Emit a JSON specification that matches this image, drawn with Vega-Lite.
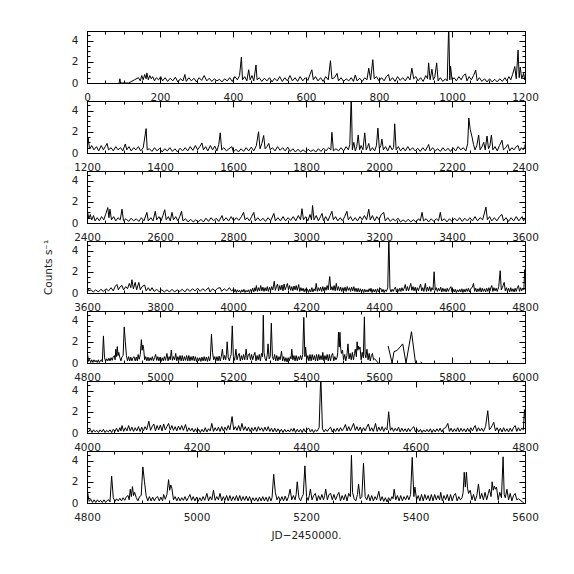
{
"$schema": "https://vega.github.io/schema/vega-lite/v6.json",
"padding": {"left": 42, "top": 24, "right": 5, "bottom": 5},
"background": "white",
"config": {
  "view": {"stroke": "black", "strokeWidth": 1},
  "axis": {"grid": false, "domainColor": "black", "tickColor": "black", "labelFont": "DejaVu Sans", "labelFontSize": 10.5, "labelColor": "#222", "titleFont": "DejaVu Sans", "titleFontSize": 10.5, "titleFontWeight": "normal", "titleColor": "#222", "labelFlush": false, "labelOverlap": false, "labelBound": false, "tickWidth": 1, "domainWidth": 1, "labelPadding": 15, "format": "d", "title": null},
  "axisTop": {"labels": false},
  "axisRight": {"labels": false}
},
"data": {"values": [
{"x":88,"y":0},{"x":90,"y":0.4},{"x":92,"y":0},{"x":114,"y":0},{"x":130,"y":0.3},{"x":141,"y":0.5},{"x":146,"y":0.2},{"x":150,"y":0.7},{"x":154,"y":0.3},{"x":158,"y":0.8},{"x":162,"y":0.4},{"x":164,"y":0.95},{"x":168,"y":0.3},{"x":172,"y":0.7},{"x":176,"y":0.4},{"x":180,"y":0.6},{"x":185,"y":0.2},{"x":190,"y":0.5},{"x":196,"y":0.3},{"x":202,"y":0.6},{"x":207,"y":0.2},{"x":214,"y":0.5},{"x":221,"y":0.15},{"x":228,"y":0.45},{"x":235,"y":0.2},{"x":242,"y":0.55},{"x":249,"y":0.1},{"x":256,"y":0.4},{"x":263,"y":0.2},{"x":268,"y":0.8},{"x":272,"y":0.15},{"x":279,"y":0.5},{"x":286,"y":0.2},{"x":293,"y":0.45},{"x":300,"y":0.1},{"x":307,"y":0.5},{"x":314,"y":0.25},{"x":321,"y":0.7},{"x":328,"y":0.2},{"x":335,"y":0.45},{"x":342,"y":0.15},{"x":349,"y":0.4},{"x":356,"y":0.2},{"x":363,"y":0.35},{"x":370,"y":0.1},{"x":377,"y":0.4},{"x":384,"y":0.2},{"x":391,"y":0.5},{"x":398,"y":0.15},{"x":405,"y":0.6},{"x":412,"y":0.3},{"x":418,"y":0.7},{"x":423,"y":2.45},{"x":426,"y":0.3},{"x":432,"y":0.6},{"x":438,"y":0.2},{"x":443,"y":1.25},{"x":447,"y":0.3},{"x":452,"y":0.7},{"x":457,"y":0.2},{"x":463,"y":1.7},{"x":466,"y":0.3},{"x":472,"y":0.5},{"x":479,"y":0.15},{"x":486,"y":0.45},{"x":493,"y":0.2},{"x":500,"y":0.5},{"x":507,"y":0.1},{"x":514,"y":0.45},{"x":521,"y":0.2},{"x":528,"y":0.6},{"x":535,"y":0.15},{"x":542,"y":0.5},{"x":549,"y":0.2},{"x":556,"y":0.7},{"x":563,"y":0.2},{"x":570,"y":0.5},{"x":577,"y":0.15},{"x":584,"y":0.6},{"x":591,"y":0.2},{"x":598,"y":0.5},{"x":605,"y":0.25},{"x":611,"y":0.8},{"x":616,"y":1.25},{"x":620,"y":0.3},{"x":626,"y":0.6},{"x":633,"y":0.2},{"x":640,"y":0.5},{"x":647,"y":0.15},{"x":654,"y":0.6},{"x":661,"y":0.3},{"x":667,"y":2.1},{"x":671,"y":0.4},{"x":678,"y":0.5},{"x":685,"y":0.9},{"x":689,"y":0.2},{"x":696,"y":0.5},{"x":703,"y":0.15},{"x":710,"y":0.4},{"x":717,"y":0.2},{"x":724,"y":0.5},{"x":730,"y":0.15},{"x":735,"y":0.75},{"x":740,"y":0.2},{"x":747,"y":0.45},{"x":754,"y":0.15},{"x":761,"y":0.5},{"x":767,"y":0.3},{"x":772,"y":1.4},{"x":777,"y":0.3},{"x":783,"y":2.2},{"x":787,"y":0.4},{"x":793,"y":0.6},{"x":800,"y":0.2},{"x":807,"y":0.5},{"x":814,"y":0.2},{"x":820,"y":0.6},{"x":826,"y":0.8},{"x":830,"y":0.2},{"x":837,"y":0.5},{"x":844,"y":0.15},{"x":851,"y":0.6},{"x":858,"y":0.25},{"x":865,"y":0.5},{"x":872,"y":0.2},{"x":879,"y":0.6},{"x":885,"y":0.3},{"x":890,"y":1.4},{"x":895,"y":0.4},{"x":901,"y":0.6},{"x":907,"y":0.2},{"x":914,"y":0.5},{"x":921,"y":0.15},{"x":928,"y":0.7},{"x":933,"y":0.4},{"x":936,"y":1.9},{"x":940,"y":0.3},{"x":945,"y":1.3},{"x":949,"y":0.3},{"x":953,"y":0.6},{"x":958,"y":1.9},{"x":962,"y":0.2},{"x":968,"y":0.5},{"x":975,"y":0.15},{"x":982,"y":0.4},{"x":987,"y":0.2},{"x":991,"y":5.5},{"x":994,"y":0.3},{"x":996,"y":1.6},{"x":1000,"y":0.3},{"x":1006,"y":0.5},{"x":1012,"y":0.2},{"x":1019,"y":0.6},{"x":1025,"y":0.3},{"x":1031,"y":0.7},{"x":1037,"y":0.85},{"x":1041,"y":0.2},{"x":1047,"y":0.6},{"x":1053,"y":0.3},{"x":1059,"y":0.7},{"x":1065,"y":1.2},{"x":1069,"y":0.2},{"x":1075,"y":0.5},{"x":1082,"y":0.15},{"x":1089,"y":0.4},{"x":1096,"y":0.1},{"x":1103,"y":0.4},{"x":1110,"y":0.1},{"x":1117,"y":0.35},{"x":1124,"y":0.1},{"x":1131,"y":0.4},{"x":1138,"y":0.15},{"x":1145,"y":0.5},{"x":1150,"y":0.2},{"x":1156,"y":0.6},{"x":1161,"y":0.3},{"x":1166,"y":0.8},{"x":1172,"y":1.55},{"x":1176,"y":0.4},{"x":1181,"y":3.1},{"x":1184,"y":0.5},{"x":1187,"y":1.5},{"x":1191,"y":0.4},{"x":1196,"y":0.9},{"x":1199,"y":0.3},
{"x":1203,"y":1.45},{"x":1207,"y":0.4},{"x":1213,"y":0.7},{"x":1219,"y":0.3},{"x":1226,"y":0.6},{"x":1232,"y":0.2},{"x":1239,"y":0.7},{"x":1245,"y":0.3},{"x":1250,"y":0.6},{"x":1255,"y":0.9},{"x":1259,"y":0.3},{"x":1266,"y":0.5},{"x":1272,"y":0.2},{"x":1279,"y":0.6},{"x":1285,"y":0.3},{"x":1292,"y":0.5},{"x":1298,"y":0.2},{"x":1305,"y":0.85},{"x":1309,"y":0.3},{"x":1315,"y":0.6},{"x":1321,"y":0.2},{"x":1328,"y":0.5},{"x":1334,"y":0.3},{"x":1341,"y":0.6},{"x":1347,"y":0.2},{"x":1354,"y":0.5},{"x":1362,"y":2.3},{"x":1365,"y":0.3},{"x":1371,"y":0.4},{"x":1378,"y":0.15},{"x":1385,"y":0.5},{"x":1392,"y":0.2},{"x":1399,"y":0.45},{"x":1406,"y":0.1},{"x":1413,"y":0.4},{"x":1420,"y":0.2},{"x":1427,"y":0.5},{"x":1434,"y":0.15},{"x":1441,"y":0.4},{"x":1448,"y":0.1},{"x":1455,"y":0.45},{"x":1462,"y":0.2},{"x":1469,"y":0.5},{"x":1476,"y":0.2},{"x":1483,"y":0.6},{"x":1490,"y":0.25},{"x":1497,"y":0.7},{"x":1503,"y":0.3},{"x":1509,"y":0.6},{"x":1515,"y":0.95},{"x":1519,"y":0.3},{"x":1525,"y":0.6},{"x":1531,"y":0.2},{"x":1538,"y":0.7},{"x":1544,"y":0.3},{"x":1550,"y":0.65},{"x":1556,"y":0.2},{"x":1561,"y":0.8},{"x":1565,"y":1.9},{"x":1569,"y":0.3},{"x":1575,"y":0.5},{"x":1582,"y":0.2},{"x":1589,"y":0.4},{"x":1597,"y":0.6},{"x":1601,"y":0.1},{"x":1608,"y":0.35},{"x":1615,"y":0.1},{"x":1622,"y":0.4},{"x":1629,"y":0.15},{"x":1636,"y":0.5},{"x":1643,"y":0.2},{"x":1650,"y":0.55},{"x":1657,"y":0.2},{"x":1664,"y":0.7},{"x":1670,"y":2.0},{"x":1674,"y":0.4},{"x":1679,"y":0.9},{"x":1684,"y":1.65},{"x":1688,"y":0.4},{"x":1693,"y":0.6},{"x":1698,"y":0.9},{"x":1702,"y":0.3},{"x":1708,"y":0.5},{"x":1715,"y":0.2},{"x":1722,"y":0.6},{"x":1729,"y":0.25},{"x":1736,"y":0.5},{"x":1743,"y":0.2},{"x":1750,"y":0.55},{"x":1757,"y":0.15},{"x":1764,"y":0.4},{"x":1771,"y":0.1},{"x":1778,"y":0.35},{"x":1785,"y":0.1},{"x":1792,"y":0.3},{"x":1799,"y":0.1},{"x":1806,"y":0.35},{"x":1813,"y":0.15},{"x":1820,"y":0.3},{"x":1827,"y":0.1},{"x":1834,"y":0.4},{"x":1841,"y":0.15},{"x":1848,"y":0.45},{"x":1855,"y":0.2},{"x":1862,"y":0.5},{"x":1868,"y":0.3},{"x":1871,"y":1.95},{"x":1875,"y":0.2},{"x":1882,"y":0.4},{"x":1889,"y":0.2},{"x":1896,"y":0.5},{"x":1903,"y":0.2},{"x":1910,"y":0.6},{"x":1916,"y":0.3},{"x":1920,"y":0.8},{"x":1924,"y":5.5},{"x":1927,"y":0.3},{"x":1931,"y":1.0},{"x":1935,"y":0.2},{"x":1939,"y":0.6},{"x":1943,"y":1.7},{"x":1947,"y":0.3},{"x":1951,"y":0.7},{"x":1956,"y":0.3},{"x":1961,"y":1.9},{"x":1965,"y":0.3},{"x":1969,"y":0.6},{"x":1972,"y":0.9},{"x":1976,"y":0.2},{"x":1982,"y":0.5},{"x":1988,"y":0.2},{"x":1993,"y":0.7},{"x":1997,"y":2.35},{"x":2001,"y":0.4},{"x":2005,"y":0.7},{"x":2008,"y":1.3},{"x":2012,"y":0.3},{"x":2018,"y":0.6},{"x":2024,"y":0.2},{"x":2030,"y":0.7},{"x":2036,"y":0.3},{"x":2040,"y":0.5},{"x":2043,"y":2.75},{"x":2047,"y":0.3},{"x":2053,"y":0.6},{"x":2059,"y":0.2},{"x":2066,"y":0.5},{"x":2072,"y":0.2},{"x":2079,"y":0.6},{"x":2085,"y":0.25},{"x":2092,"y":0.5},{"x":2099,"y":0.2},{"x":2106,"y":0.45},{"x":2113,"y":0.15},{"x":2120,"y":0.5},{"x":2127,"y":0.2},{"x":2133,"y":0.6},{"x":2136,"y":0.8},{"x":2140,"y":0.2},{"x":2147,"y":0.5},{"x":2154,"y":0.2},{"x":2161,"y":0.4},{"x":2168,"y":0.15},{"x":2175,"y":0.5},{"x":2182,"y":0.2},{"x":2189,"y":0.45},{"x":2196,"y":0.15},{"x":2203,"y":0.5},{"x":2210,"y":0.2},{"x":2217,"y":0.6},{"x":2224,"y":0.3},{"x":2231,"y":0.5},{"x":2238,"y":0.2},{"x":2243,"y":0.9},{"x":2246,"y":3.3},{"x":2250,"y":2.2},{"x":2255,"y":1.5},{"x":2259,"y":0.8},{"x":2263,"y":0.3},{"x":2268,"y":0.7},{"x":2273,"y":1.7},{"x":2277,"y":0.3},{"x":2282,"y":0.6},{"x":2287,"y":1.0},{"x":2291,"y":0.3},{"x":2296,"y":1.6},{"x":2300,"y":0.4},{"x":2304,"y":0.7},{"x":2308,"y":1.7},{"x":2312,"y":0.3},{"x":2318,"y":0.6},{"x":2324,"y":0.2},{"x":2330,"y":0.7},{"x":2337,"y":1.2},{"x":2341,"y":0.3},{"x":2347,"y":0.5},{"x":2353,"y":0.8},{"x":2358,"y":0.2},{"x":2364,"y":0.5},{"x":2370,"y":0.3},{"x":2376,"y":0.6},{"x":2381,"y":0.7},{"x":2385,"y":0.2},{"x":2390,"y":0.5},{"x":2395,"y":0.3},{"x":2399,"y":0.6},
{"x":2402,"y":0.95},{"x":2405,"y":0.4},{"x":2409,"y":0.8},{"x":2413,"y":0.3},{"x":2418,"y":0.7},{"x":2422,"y":0.2},{"x":2428,"y":0.5},{"x":2434,"y":0.2},{"x":2440,"y":0.6},{"x":2446,"y":0.3},{"x":2451,"y":0.8},{"x":2457,"y":1.45},{"x":2460,"y":0.5},{"x":2463,"y":1.3},{"x":2467,"y":0.3},{"x":2473,"y":0.6},{"x":2479,"y":0.2},{"x":2485,"y":0.5},{"x":2491,"y":0.3},{"x":2496,"y":1.3},{"x":2500,"y":0.2},{"x":2507,"y":0.4},{"x":2514,"y":0.15},{"x":2521,"y":0.45},{"x":2528,"y":0.2},{"x":2535,"y":0.4},{"x":2542,"y":0.15},{"x":2549,"y":0.5},{"x":2556,"y":0.2},{"x":2564,"y":1.0},{"x":2568,"y":0.2},{"x":2575,"y":0.5},{"x":2581,"y":0.2},{"x":2587,"y":1.1},{"x":2591,"y":0.3},{"x":2597,"y":0.6},{"x":2603,"y":0.2},{"x":2608,"y":0.7},{"x":2613,"y":1.25},{"x":2617,"y":0.3},{"x":2623,"y":0.6},{"x":2628,"y":0.2},{"x":2633,"y":1.0},{"x":2637,"y":0.3},{"x":2643,"y":0.6},{"x":2649,"y":0.2},{"x":2654,"y":0.6},{"x":2659,"y":1.1},{"x":2663,"y":0.2},{"x":2670,"y":0.4},{"x":2677,"y":0.1},{"x":2684,"y":0.35},{"x":2691,"y":0.1},{"x":2698,"y":0.3},{"x":2705,"y":0.1},{"x":2712,"y":0.35},{"x":2719,"y":0.1},{"x":2726,"y":0.45},{"x":2733,"y":0.15},{"x":2740,"y":0.5},{"x":2747,"y":0.2},{"x":2754,"y":0.45},{"x":2761,"y":0.15},{"x":2770,"y":0.7},{"x":2774,"y":0.2},{"x":2781,"y":0.5},{"x":2788,"y":0.2},{"x":2795,"y":0.6},{"x":2802,"y":0.2},{"x":2809,"y":0.5},{"x":2816,"y":0.25},{"x":2823,"y":0.6},{"x":2829,"y":1.0},{"x":2833,"y":0.3},{"x":2839,"y":0.5},{"x":2845,"y":0.2},{"x":2851,"y":0.6},{"x":2857,"y":1.0},{"x":2861,"y":0.2},{"x":2868,"y":0.5},{"x":2875,"y":0.2},{"x":2882,"y":0.45},{"x":2889,"y":0.15},{"x":2896,"y":0.5},{"x":2903,"y":0.2},{"x":2912,"y":0.9},{"x":2916,"y":0.2},{"x":2923,"y":0.5},{"x":2930,"y":0.2},{"x":2937,"y":0.6},{"x":2944,"y":0.2},{"x":2951,"y":0.5},{"x":2958,"y":0.25},{"x":2965,"y":0.6},{"x":2972,"y":0.2},{"x":2979,"y":0.7},{"x":2985,"y":0.3},{"x":2989,"y":1.35},{"x":2993,"y":0.3},{"x":2999,"y":0.6},{"x":3005,"y":0.2},{"x":3011,"y":0.8},{"x":3015,"y":0.3},{"x":3018,"y":1.65},{"x":3022,"y":0.3},{"x":3028,"y":0.7},{"x":3034,"y":0.2},{"x":3040,"y":0.6},{"x":3044,"y":0.9},{"x":3048,"y":0.2},{"x":3054,"y":0.6},{"x":3060,"y":0.2},{"x":3066,"y":0.7},{"x":3071,"y":1.1},{"x":3075,"y":0.3},{"x":3081,"y":0.6},{"x":3087,"y":0.2},{"x":3094,"y":0.5},{"x":3100,"y":0.2},{"x":3106,"y":0.6},{"x":3112,"y":1.1},{"x":3116,"y":0.3},{"x":3122,"y":0.6},{"x":3128,"y":0.2},{"x":3135,"y":0.5},{"x":3141,"y":0.2},{"x":3148,"y":0.6},{"x":3154,"y":0.3},{"x":3160,"y":0.7},{"x":3166,"y":0.3},{"x":3172,"y":1.3},{"x":3176,"y":0.3},{"x":3182,"y":0.7},{"x":3188,"y":0.2},{"x":3194,"y":0.6},{"x":3200,"y":0.3},{"x":3206,"y":0.8},{"x":3213,"y":1.0},{"x":3217,"y":0.2},{"x":3224,"y":0.5},{"x":3231,"y":0.15},{"x":3238,"y":0.4},{"x":3245,"y":0.2},{"x":3252,"y":0.45},{"x":3259,"y":0.1},{"x":3266,"y":0.3},{"x":3273,"y":0.1},{"x":3280,"y":0.35},{"x":3287,"y":0.1},{"x":3294,"y":0.3},{"x":3301,"y":0.1},{"x":3308,"y":0.4},{"x":3313,"y":0.2},{"x":3318,"y":1.0},{"x":3322,"y":0.2},{"x":3329,"y":0.4},{"x":3336,"y":0.1},{"x":3343,"y":0.4},{"x":3350,"y":0.15},{"x":3357,"y":0.4},{"x":3363,"y":0.2},{"x":3368,"y":1.0},{"x":3372,"y":0.2},{"x":3379,"y":0.4},{"x":3386,"y":0.1},{"x":3393,"y":0.4},{"x":3400,"y":0.15},{"x":3407,"y":0.45},{"x":3414,"y":0.2},{"x":3421,"y":0.5},{"x":3428,"y":0.15},{"x":3435,"y":0.45},{"x":3442,"y":0.2},{"x":3449,"y":0.5},{"x":3456,"y":0.2},{"x":3463,"y":0.6},{"x":3470,"y":0.2},{"x":3477,"y":0.5},{"x":3484,"y":0.3},{"x":3493,"y":1.5},{"x":3497,"y":0.3},{"x":3503,"y":0.6},{"x":3509,"y":0.2},{"x":3516,"y":0.5},{"x":3523,"y":0.2},{"x":3530,"y":0.6},{"x":3537,"y":0.8},{"x":3541,"y":0.2},{"x":3548,"y":0.5},{"x":3555,"y":0.15},{"x":3562,"y":0.5},{"x":3569,"y":0.2},{"x":3576,"y":0.6},{"x":3583,"y":0.2},{"x":3592,"y":0.6},{"x":3596,"y":0.2},
{"x":3601,"y":0.5},{"x":3605,"y":0.2},{"x":3611,"y":0.3},{"x":3617,"y":0.1},{"x":3624,"y":0.3},{"x":3631,"y":0.1},{"x":3638,"y":0.35},{"x":3645,"y":0.15},{"x":3652,"y":0.4},{"x":3659,"y":0.2},{"x":3666,"y":0.5},{"x":3672,"y":0.2},{"x":3677,"y":0.6},{"x":3682,"y":0.8},{"x":3686,"y":0.3},{"x":3691,"y":0.6},{"x":3696,"y":0.7},{"x":3700,"y":0.3},{"x":3706,"y":0.6},{"x":3711,"y":0.4},{"x":3716,"y":0.9},{"x":3720,"y":0.5},{"x":3723,"y":1.25},{"x":3727,"y":0.4},{"x":3732,"y":1.0},{"x":3736,"y":0.3},{"x":3742,"y":1.0},{"x":3746,"y":0.3},{"x":3751,"y":0.6},{"x":3758,"y":0.75},{"x":3762,"y":0.2},{"x":3768,"y":0.5},{"x":3773,"y":0.2},{"x":3778,"y":0.5},{"x":3784,"y":0.15},{"x":3791,"y":0.35},{"x":3798,"y":0.1},{"x":3805,"y":0.3},{"x":3812,"y":0.1},{"x":3819,"y":0.3},{"x":3826,"y":0.1},{"x":3833,"y":0.35},{"x":3840,"y":0.1},{"x":3847,"y":0.3},{"x":3854,"y":0.15},{"x":3861,"y":0.35},{"x":3868,"y":0.1},{"x":3875,"y":0.4},{"x":3882,"y":0.15},{"x":3889,"y":0.4},{"x":3896,"y":0.2},{"x":3903,"y":0.45},{"x":3910,"y":0.15},{"x":3917,"y":0.4},{"x":3924,"y":0.2},{"x":3933,"y":0.5},{"x":3937,"y":0.1},{"x":3944,"y":0.4},{"x":3951,"y":0.2},{"x":3958,"y":0.45},{"x":3965,"y":0.5},{"x":3969,"y":0.15},{"x":3976,"y":0.4},{"x":3983,"y":0.2},{"x":3990,"y":0.5},{"x":3996,"y":0.2},
{"x":4000,"y":0.3},{"x":4003,"y":0.1},{"x":4006,"y":0.35},{"x":4009,"y":0.05},{"x":4012,"y":0.3},{"x":4015,"y":0.1},{"x":4018,"y":0.25},{"x":4021,"y":0.05},{"x":4024,"y":0.3},{"x":4027,"y":0.1},{"x":4030,"y":0.35},{"x":4033,"y":0.05},{"x":4036,"y":0.25},{"x":4039,"y":0.1},{"x":4042,"y":0.3},{"x":4045,"y":0.05},{"x":4048,"y":0.35},{"x":4051,"y":0.15},{"x":4054,"y":0.45},{"x":4057,"y":0.1},{"x":4060,"y":0.5},{"x":4062,"y":0.2},{"x":4064,"y":0.7},{"x":4067,"y":0.15},{"x":4070,"y":0.5},{"x":4073,"y":0.2},{"x":4076,"y":0.7},{"x":4079,"y":0.2},{"x":4082,"y":0.55},{"x":4085,"y":0.15},{"x":4088,"y":0.5},{"x":4091,"y":0.2},{"x":4094,"y":0.6},{"x":4097,"y":0.15},{"x":4100,"y":0.55},{"x":4103,"y":0.2},{"x":4106,"y":0.6},{"x":4109,"y":0.3},{"x":4113,"y":1.1},{"x":4116,"y":0.25},{"x":4119,"y":0.6},{"x":4122,"y":0.85},{"x":4125,"y":0.2},{"x":4128,"y":0.7},{"x":4131,"y":0.3},{"x":4134,"y":0.75},{"x":4137,"y":0.2},{"x":4140,"y":0.85},{"x":4143,"y":0.3},{"x":4146,"y":0.6},{"x":4149,"y":0.9},{"x":4152,"y":0.3},{"x":4155,"y":0.7},{"x":4158,"y":0.25},{"x":4161,"y":0.6},{"x":4164,"y":0.2},{"x":4167,"y":0.65},{"x":4170,"y":0.3},{"x":4173,"y":0.7},{"x":4176,"y":0.25},{"x":4180,"y":0.8},{"x":4183,"y":0.15},{"x":4186,"y":0.5},{"x":4189,"y":0.2},{"x":4192,"y":0.45},{"x":4195,"y":0.1},{"x":4198,"y":0.4},{"x":4201,"y":0.1},{"x":4204,"y":0.35},{"x":4207,"y":0.05},{"x":4210,"y":0.35},{"x":4213,"y":0.1},{"x":4216,"y":0.5},{"x":4219,"y":0.1},{"x":4222,"y":0.4},{"x":4225,"y":0.2},{"x":4228,"y":0.9},{"x":4231,"y":0.15},{"x":4234,"y":0.5},{"x":4237,"y":0.2},{"x":4240,"y":0.55},{"x":4243,"y":0.15},{"x":4246,"y":0.6},{"x":4249,"y":0.2},{"x":4252,"y":0.55},{"x":4255,"y":0.25},{"x":4258,"y":0.7},{"x":4261,"y":0.3},{"x":4265,"y":1.55},{"x":4268,"y":0.3},{"x":4271,"y":0.6},{"x":4274,"y":0.25},{"x":4277,"y":0.7},{"x":4280,"y":0.2},{"x":4283,"y":0.9},{"x":4286,"y":0.25},{"x":4289,"y":0.6},{"x":4292,"y":0.2},{"x":4295,"y":0.55},{"x":4298,"y":0.15},{"x":4301,"y":0.5},{"x":4304,"y":0.2},{"x":4307,"y":0.55},{"x":4310,"y":0.15},{"x":4313,"y":0.6},{"x":4316,"y":0.25},{"x":4319,"y":0.5},{"x":4322,"y":0.15},{"x":4325,"y":0.55},{"x":4328,"y":0.2},{"x":4331,"y":0.6},{"x":4334,"y":0.15},{"x":4337,"y":0.45},{"x":4340,"y":0.1},{"x":4343,"y":0.45},{"x":4346,"y":0.1},{"x":4349,"y":0.4},{"x":4352,"y":0.1},{"x":4355,"y":0.35},{"x":4358,"y":0.05},{"x":4361,"y":0.35},{"x":4364,"y":0.1},{"x":4367,"y":0.3},{"x":4370,"y":0.1},{"x":4373,"y":0.4},{"x":4376,"y":0.15},{"x":4378,"y":0.45},{"x":4381,"y":0.05},{"x":4384,"y":0.35},{"x":4387,"y":0.1},{"x":4390,"y":0.35},{"x":4393,"y":0.05},{"x":4396,"y":0.4},{"x":4399,"y":0.1},{"x":4402,"y":0.35},{"x":4405,"y":0.45},{"x":4408,"y":0.1},{"x":4411,"y":0.35},{"x":4414,"y":0.05},{"x":4417,"y":0.3},{"x":4420,"y":0.15},{"x":4424,"y":0.5},{"x":4427,"y":5.5},{"x":4430,"y":0.4},{"x":4433,"y":0.1},{"x":4436,"y":0.35},{"x":4439,"y":0.15},{"x":4442,"y":0.4},{"x":4445,"y":0.55},{"x":4448,"y":0.1},{"x":4451,"y":0.4},{"x":4454,"y":0.15},{"x":4457,"y":0.45},{"x":4460,"y":0.15},{"x":4463,"y":0.5},{"x":4466,"y":0.2},{"x":4469,"y":0.45},{"x":4472,"y":0.8},{"x":4475,"y":0.2},{"x":4478,"y":0.6},{"x":4481,"y":0.2},{"x":4484,"y":0.55},{"x":4487,"y":0.9},{"x":4490,"y":0.25},{"x":4493,"y":0.6},{"x":4496,"y":0.2},{"x":4499,"y":0.55},{"x":4502,"y":0.15},{"x":4505,"y":0.5},{"x":4508,"y":0.2},{"x":4511,"y":0.55},{"x":4514,"y":0.85},{"x":4517,"y":0.2},{"x":4520,"y":0.5},{"x":4523,"y":0.15},{"x":4527,"y":0.9},{"x":4530,"y":0.15},{"x":4533,"y":0.55},{"x":4536,"y":0.2},{"x":4539,"y":0.6},{"x":4542,"y":0.15},{"x":4545,"y":0.5},{"x":4548,"y":0.3},{"x":4551,"y":2.0},{"x":4554,"y":0.25},{"x":4557,"y":0.5},{"x":4560,"y":0.15},{"x":4563,"y":0.45},{"x":4566,"y":0.2},{"x":4569,"y":0.55},{"x":4572,"y":0.1},{"x":4575,"y":0.45},{"x":4578,"y":0.15},{"x":4581,"y":0.4},{"x":4584,"y":0.1},{"x":4587,"y":0.45},{"x":4590,"y":0.15},{"x":4593,"y":0.4},{"x":4597,"y":0.6},{"x":4600,"y":0.1},{"x":4603,"y":0.35},{"x":4606,"y":0.1},{"x":4609,"y":0.35},{"x":4612,"y":0.05},{"x":4615,"y":0.3},{"x":4618,"y":0.1},{"x":4621,"y":0.35},{"x":4624,"y":0.1},{"x":4627,"y":0.4},{"x":4630,"y":0.05},{"x":4633,"y":0.35},{"x":4636,"y":0.1},{"x":4639,"y":0.4},{"x":4642,"y":0.15},{"x":4645,"y":0.45},{"x":4648,"y":0.1},{"x":4651,"y":0.4},{"x":4655,"y":0.5},{"x":4659,"y":0.9},{"x":4662,"y":0.15},{"x":4665,"y":0.45},{"x":4668,"y":0.1},{"x":4671,"y":0.4},{"x":4674,"y":0.15},{"x":4677,"y":0.5},{"x":4680,"y":0.1},{"x":4683,"y":0.45},{"x":4686,"y":0.15},{"x":4689,"y":0.4},{"x":4692,"y":0.1},{"x":4695,"y":0.45},{"x":4698,"y":0.15},{"x":4701,"y":0.5},{"x":4704,"y":0.2},{"x":4707,"y":0.55},{"x":4709,"y":0.7},{"x":4712,"y":0.15},{"x":4715,"y":0.5},{"x":4718,"y":0.2},{"x":4721,"y":0.45},{"x":4724,"y":0.15},{"x":4728,"y":0.6},{"x":4732,"y":2.1},{"x":4735,"y":0.3},{"x":4738,"y":0.5},{"x":4740,"y":0.7},{"x":4743,"y":1.0},{"x":4746,"y":0.2},{"x":4749,"y":0.5},{"x":4752,"y":0.15},{"x":4755,"y":0.45},{"x":4758,"y":0.1},{"x":4761,"y":0.5},{"x":4764,"y":0.15},{"x":4767,"y":0.4},{"x":4770,"y":0.1},{"x":4773,"y":0.45},{"x":4776,"y":0.15},{"x":4779,"y":0.5},{"x":4782,"y":0.7},{"x":4785,"y":0.15},{"x":4788,"y":0.5},{"x":4791,"y":0.2},{"x":4794,"y":0.45},{"x":4797,"y":0.3},{"x":4799,"y":2.2},
{"x":4801,"y":1.0},{"x":4804,"y":0.15},{"x":4807,"y":0.35},{"x":4810,"y":0.05},{"x":4813,"y":0.3},{"x":4816,"y":0.05},{"x":4819,"y":0.3},{"x":4822,"y":0.1},{"x":4825,"y":0.25},{"x":4828,"y":0.05},{"x":4831,"y":0.3},{"x":4834,"y":0.05},{"x":4837,"y":0.25},{"x":4840,"y":0.3},{"x":4842,"y":0.1},{"x":4845,"y":2.55},{"x":4848,"y":0.5},{"x":4851,"y":0.15},{"x":4854,"y":0.4},{"x":4857,"y":0.2},{"x":4860,"y":0.45},{"x":4863,"y":0.2},{"x":4866,"y":0.5},{"x":4869,"y":0.25},{"x":4872,"y":0.6},{"x":4875,"y":0.7},{"x":4877,"y":0.3},{"x":4879,"y":1.3},{"x":4881,"y":0.6},{"x":4883,"y":1.55},{"x":4885,"y":0.7},{"x":4887,"y":1.0},{"x":4890,"y":0.5},{"x":4893,"y":0.2},{"x":4896,"y":0.6},{"x":4899,"y":0.7},{"x":4902,"y":3.4},{"x":4905,"y":2.0},{"x":4908,"y":0.7},{"x":4911,"y":0.2},{"x":4914,"y":0.6},{"x":4917,"y":0.2},{"x":4920,"y":0.55},{"x":4923,"y":0.2},{"x":4926,"y":0.5},{"x":4929,"y":0.6},{"x":4932,"y":0.2},{"x":4935,"y":0.55},{"x":4938,"y":0.2},{"x":4940,"y":0.8},{"x":4943,"y":0.35},{"x":4946,"y":0.8},{"x":4949,"y":2.2},{"x":4951,"y":1.2},{"x":4953,"y":1.7},{"x":4955,"y":1.4},{"x":4958,"y":0.3},{"x":4961,"y":0.6},{"x":4964,"y":0.2},{"x":4967,"y":0.55},{"x":4970,"y":0.2},{"x":4973,"y":0.5},{"x":4976,"y":0.25},{"x":4979,"y":0.6},{"x":4982,"y":0.2},{"x":4985,"y":0.5},{"x":4988,"y":0.8},{"x":4991,"y":0.25},{"x":4994,"y":0.6},{"x":4997,"y":0.2},{"x":5000,"y":0.55},{"x":5003,"y":0.15},{"x":5006,"y":0.5},{"x":5009,"y":0.2},{"x":5012,"y":0.6},{"x":5015,"y":0.25},{"x":5019,"y":0.9},{"x":5022,"y":0.2},{"x":5025,"y":0.6},{"x":5028,"y":0.3},{"x":5031,"y":1.2},{"x":5034,"y":0.25},{"x":5037,"y":0.6},{"x":5040,"y":0.3},{"x":5043,"y":0.9},{"x":5046,"y":0.2},{"x":5049,"y":0.6},{"x":5052,"y":0.25},{"x":5055,"y":0.7},{"x":5058,"y":0.2},{"x":5061,"y":0.7},{"x":5064,"y":0.2},{"x":5067,"y":0.6},{"x":5070,"y":0.25},{"x":5073,"y":0.7},{"x":5076,"y":0.2},{"x":5079,"y":0.7},{"x":5082,"y":0.2},{"x":5085,"y":0.6},{"x":5088,"y":0.25},{"x":5091,"y":0.65},{"x":5094,"y":0.2},{"x":5097,"y":0.6},{"x":5100,"y":0.15},{"x":5103,"y":0.5},{"x":5106,"y":0.2},{"x":5109,"y":0.5},{"x":5112,"y":0.15},{"x":5115,"y":0.55},{"x":5118,"y":0.2},{"x":5121,"y":0.6},{"x":5124,"y":0.2},{"x":5127,"y":0.55},{"x":5130,"y":0.15},{"x":5133,"y":0.6},{"x":5136,"y":0.2},{"x":5138,"y":0.5},{"x":5141,"y":2.7},{"x":5144,"y":1.0},{"x":5147,"y":0.3},{"x":5150,"y":0.6},{"x":5153,"y":0.2},{"x":5156,"y":0.6},{"x":5159,"y":0.2},{"x":5162,"y":0.65},{"x":5165,"y":0.2},{"x":5168,"y":0.6},{"x":5171,"y":1.3},{"x":5174,"y":0.3},{"x":5177,"y":0.7},{"x":5180,"y":0.3},{"x":5182,"y":0.8},{"x":5184,"y":2.0},{"x":5187,"y":0.5},{"x":5190,"y":0.2},{"x":5193,"y":0.6},{"x":5195,"y":0.8},{"x":5198,"y":3.5},{"x":5201,"y":0.6},{"x":5204,"y":0.25},{"x":5206,"y":0.7},{"x":5208,"y":1.3},{"x":5211,"y":0.3},{"x":5214,"y":0.7},{"x":5217,"y":0.9},{"x":5220,"y":0.2},{"x":5223,"y":0.7},{"x":5226,"y":0.3},{"x":5229,"y":0.8},{"x":5232,"y":0.3},{"x":5234,"y":0.7},{"x":5236,"y":1.3},{"x":5239,"y":0.3},{"x":5242,"y":0.8},{"x":5245,"y":0.9},{"x":5248,"y":0.3},{"x":5251,"y":0.8},{"x":5254,"y":0.3},{"x":5257,"y":0.7},{"x":5260,"y":1.0},{"x":5263,"y":0.2},{"x":5266,"y":0.7},{"x":5269,"y":0.3},{"x":5272,"y":0.8},{"x":5275,"y":0.2},{"x":5278,"y":0.9},{"x":5281,"y":0.6},{"x":5283,"y":4.5},{"x":5285,"y":1.0},{"x":5288,"y":0.4},{"x":5291,"y":0.2},{"x":5294,"y":0.8},{"x":5296,"y":1.8},{"x":5299,"y":0.4},{"x":5302,"y":0.6},{"x":5305,"y":3.75},{"x":5308,"y":0.6},{"x":5311,"y":0.3},{"x":5314,"y":0.8},{"x":5317,"y":0.2},{"x":5320,"y":0.7},{"x":5323,"y":0.2},{"x":5326,"y":0.6},{"x":5329,"y":0.3},{"x":5333,"y":1.1},{"x":5336,"y":0.2},{"x":5339,"y":0.6},{"x":5342,"y":0.15},{"x":5345,"y":0.5},{"x":5348,"y":0.1},{"x":5351,"y":0.5},{"x":5354,"y":0.2},{"x":5357,"y":0.6},{"x":5359,"y":0.4},{"x":5361,"y":1.3},{"x":5364,"y":0.3},{"x":5367,"y":0.7},{"x":5370,"y":0.2},{"x":5373,"y":0.7},{"x":5376,"y":0.2},{"x":5379,"y":0.6},{"x":5382,"y":0.3},{"x":5385,"y":0.7},{"x":5388,"y":0.3},{"x":5391,"y":0.8},{"x":5394,"y":4.3},{"x":5397,"y":0.6},{"x":5399,"y":1.5},{"x":5402,"y":0.3},{"x":5405,"y":0.7},{"x":5408,"y":0.2},{"x":5411,"y":0.8},{"x":5414,"y":0.2},{"x":5417,"y":0.8},{"x":5420,"y":0.3},{"x":5423,"y":0.7},{"x":5426,"y":0.2},{"x":5429,"y":0.8},{"x":5432,"y":0.2},{"x":5435,"y":0.8},{"x":5438,"y":0.3},{"x":5441,"y":0.7},{"x":5444,"y":0.3},{"x":5446,"y":1.0},{"x":5449,"y":0.2},{"x":5452,"y":0.7},{"x":5455,"y":0.3},{"x":5458,"y":0.8},{"x":5461,"y":0.2},{"x":5464,"y":0.8},{"x":5467,"y":0.2},{"x":5470,"y":0.7},{"x":5473,"y":0.9},{"x":5476,"y":0.2},{"x":5479,"y":0.6},{"x":5482,"y":0.3},{"x":5485,"y":0.5},{"x":5487,"y":1.0},{"x":5489,"y":2.9},{"x":5491,"y":1.5},{"x":5493,"y":2.9},{"x":5495,"y":1.4},{"x":5497,"y":0.9},{"x":5500,"y":1.2},{"x":5503,"y":0.3},{"x":5506,"y":0.8},{"x":5509,"y":0.2},{"x":5512,"y":0.7},{"x":5515,"y":1.8},{"x":5518,"y":0.4},{"x":5521,"y":0.9},{"x":5524,"y":0.3},{"x":5527,"y":1.0},{"x":5530,"y":0.3},{"x":5533,"y":0.9},{"x":5535,"y":1.3},{"x":5538,"y":0.6},{"x":5540,"y":2.0},{"x":5542,"y":1.2},{"x":5544,"y":1.6},{"x":5546,"y":1.3},{"x":5548,"y":1.5},{"x":5551,"y":0.3},{"x":5554,"y":1.0},{"x":5557,"y":0.5},{"x":5560,"y":4.35},{"x":5562,"y":0.8},{"x":5564,"y":0.5},{"x":5567,"y":1.3},{"x":5570,"y":0.3},{"x":5573,"y":0.9},{"x":5576,"y":0.2},{"x":5579,"y":0.7},{"x":5582,"y":0.9},{"x":5585,"y":0.3},{"x":5588,"y":0.4},{"x":5598,"y":0},{"x":5612,"y":null},{"x":5625,"y":1.6},{"x":5636,"y":0},{"x":5641,"y":1.06},{"x":5650,"y":1.2},{"x":5665,"y":1.8},{"x":5674,"y":0},{"x":5689,"y":2.95},{"x":5700,"y":0},{"x":5708,"y":null},{"x":5714,"y":0.1},{"x":5718,"y":0}
]},
"vconcat": [
{"width": 438, "height": 52, "transform": [{"filter": "datum.x >= -30 && datum.x <= 1230"}],
 "encoding": {
  "x": {"field": "x", "type": "quantitative", "scale": {"domain": [0, 1200], "nice": false, "zero": false}},
  "y": {"field": "y", "type": "quantitative", "scale": {"domain": [0, 4.9], "nice": false, "zero": false}}
 },
 "layer": [
  {"mark": {"type": "line", "clip": true, "color": "black", "strokeWidth": 1},
   "encoding": {"x": {"field": "x", "type": "quantitative", "axis": {"orient": "bottom", "values": [0,200,400,600,800,1000,1200], "tickSize": -6}}, "y": {"field": "y", "type": "quantitative", "axis": {"orient": "left", "values": [0,2,4], "tickSize": -6}}}},
  {"mark": {"type": "line", "opacity": 0},
   "encoding": {"x": {"field": "x", "type": "quantitative", "axis": {"orient": "top", "values": [0,200,400,600,800,1000,1200], "tickSize": -6}}, "y": {"field": "y", "type": "quantitative", "axis": {"orient": "right", "values": [0,2,4], "tickSize": -6}}}},
  {"mark": {"type": "line", "opacity": 0},
   "encoding": {"x": {"field": "x", "type": "quantitative", "axis": {"orient": "bottom", "labels": false, "domain": false, "values": [0,50,100,150,200,250,300,350,400,450,500,550,600,650,700,750,800,850,900,950,1000,1050,1100,1150,1200], "tickSize": -3}}, "y": {"field": "y", "type": "quantitative", "axis": {"orient": "left", "labels": false, "domain": false, "values": [0,0.5,1,1.5,2,2.5,3,3.5,4,4.5], "tickSize": -3}}}},
  {"mark": {"type": "line", "opacity": 0},
   "encoding": {"x": {"field": "x", "type": "quantitative", "axis": {"orient": "top", "domain": false, "values": [0,50,100,150,200,250,300,350,400,450,500,550,600,650,700,750,800,850,900,950,1000,1050,1100,1150,1200], "tickSize": -3}}, "y": {"field": "y", "type": "quantitative", "axis": {"orient": "right", "domain": false, "values": [0,0.5,1,1.5,2,2.5,3,3.5,4,4.5], "tickSize": -3}}}}
 ],
 "resolve": {"axis": {"x": "independent", "y": "independent"}}
},
{"width": 438, "height": 52, "transform": [{"filter": "datum.x >= 1170 && datum.x <= 2430"}],
 "encoding": {
  "x": {"field": "x", "type": "quantitative", "scale": {"domain": [1200, 2400], "nice": false, "zero": false}},
  "y": {"field": "y", "type": "quantitative", "scale": {"domain": [0, 4.9], "nice": false, "zero": false}}
 },
 "layer": [
  {"mark": {"type": "line", "clip": true, "color": "black", "strokeWidth": 1},
   "encoding": {"x": {"field": "x", "type": "quantitative", "axis": {"orient": "bottom", "values": [1200,1400,1600,1800,2000,2200,2400], "tickSize": -6}}, "y": {"field": "y", "type": "quantitative", "axis": {"orient": "left", "values": [0,2,4], "tickSize": -6}}}},
  {"mark": {"type": "line", "opacity": 0},
   "encoding": {"x": {"field": "x", "type": "quantitative", "axis": {"orient": "top", "values": [1200,1400,1600,1800,2000,2200,2400], "tickSize": -6}}, "y": {"field": "y", "type": "quantitative", "axis": {"orient": "right", "values": [0,2,4], "tickSize": -6}}}},
  {"mark": {"type": "line", "opacity": 0},
   "encoding": {"x": {"field": "x", "type": "quantitative", "axis": {"orient": "bottom", "labels": false, "domain": false, "values": [1200,1250,1300,1350,1400,1450,1500,1550,1600,1650,1700,1750,1800,1850,1900,1950,2000,2050,2100,2150,2200,2250,2300,2350,2400], "tickSize": -3}}, "y": {"field": "y", "type": "quantitative", "axis": {"orient": "left", "labels": false, "domain": false, "values": [0,0.5,1,1.5,2,2.5,3,3.5,4,4.5], "tickSize": -3}}}},
  {"mark": {"type": "line", "opacity": 0},
   "encoding": {"x": {"field": "x", "type": "quantitative", "axis": {"orient": "top", "domain": false, "values": [1200,1250,1300,1350,1400,1450,1500,1550,1600,1650,1700,1750,1800,1850,1900,1950,2000,2050,2100,2150,2200,2250,2300,2350,2400], "tickSize": -3}}, "y": {"field": "y", "type": "quantitative", "axis": {"orient": "right", "domain": false, "values": [0,0.5,1,1.5,2,2.5,3,3.5,4,4.5], "tickSize": -3}}}}
 ],
 "resolve": {"axis": {"x": "independent", "y": "independent"}}
},
{"width": 438, "height": 52, "transform": [{"filter": "datum.x >= 2370 && datum.x <= 3630"}],
 "encoding": {
  "x": {"field": "x", "type": "quantitative", "scale": {"domain": [2400, 3600], "nice": false, "zero": false}},
  "y": {"field": "y", "type": "quantitative", "scale": {"domain": [0, 4.9], "nice": false, "zero": false}}
 },
 "layer": [
  {"mark": {"type": "line", "clip": true, "color": "black", "strokeWidth": 1},
   "encoding": {"x": {"field": "x", "type": "quantitative", "axis": {"orient": "bottom", "values": [2400,2600,2800,3000,3200,3400,3600], "tickSize": -6}}, "y": {"field": "y", "type": "quantitative", "axis": {"orient": "left", "values": [0,2,4], "tickSize": -6}}}},
  {"mark": {"type": "line", "opacity": 0},
   "encoding": {"x": {"field": "x", "type": "quantitative", "axis": {"orient": "top", "values": [2400,2600,2800,3000,3200,3400,3600], "tickSize": -6}}, "y": {"field": "y", "type": "quantitative", "axis": {"orient": "right", "values": [0,2,4], "tickSize": -6}}}},
  {"mark": {"type": "line", "opacity": 0},
   "encoding": {"x": {"field": "x", "type": "quantitative", "axis": {"orient": "bottom", "labels": false, "domain": false, "values": [2400,2450,2500,2550,2600,2650,2700,2750,2800,2850,2900,2950,3000,3050,3100,3150,3200,3250,3300,3350,3400,3450,3500,3550,3600], "tickSize": -3}}, "y": {"field": "y", "type": "quantitative", "axis": {"orient": "left", "labels": false, "domain": false, "values": [0,0.5,1,1.5,2,2.5,3,3.5,4,4.5], "tickSize": -3}}}},
  {"mark": {"type": "line", "opacity": 0},
   "encoding": {"x": {"field": "x", "type": "quantitative", "axis": {"orient": "top", "domain": false, "values": [2400,2450,2500,2550,2600,2650,2700,2750,2800,2850,2900,2950,3000,3050,3100,3150,3200,3250,3300,3350,3400,3450,3500,3550,3600], "tickSize": -3}}, "y": {"field": "y", "type": "quantitative", "axis": {"orient": "right", "domain": false, "values": [0,0.5,1,1.5,2,2.5,3,3.5,4,4.5], "tickSize": -3}}}}
 ],
 "resolve": {"axis": {"x": "independent", "y": "independent"}}
},
{"width": 438, "height": 52, "transform": [{"filter": "datum.x >= 3570 && datum.x <= 4830"}],
 "encoding": {
  "x": {"field": "x", "type": "quantitative", "scale": {"domain": [3600, 4800], "nice": false, "zero": false}},
  "y": {"field": "y", "type": "quantitative", "scale": {"domain": [0, 4.9], "nice": false, "zero": false}}
 },
 "layer": [
  {"mark": {"type": "line", "clip": true, "color": "black", "strokeWidth": 1},
   "encoding": {"x": {"field": "x", "type": "quantitative", "axis": {"orient": "bottom", "values": [3600,3800,4000,4200,4400,4600,4800], "tickSize": -6}}, "y": {"field": "y", "type": "quantitative", "axis": {"orient": "left", "values": [0,2,4], "tickSize": -6, "title": "Counts s⁻¹", "titlePadding": 18}}}},
  {"mark": {"type": "line", "opacity": 0},
   "encoding": {"x": {"field": "x", "type": "quantitative", "axis": {"orient": "top", "values": [3600,3800,4000,4200,4400,4600,4800], "tickSize": -6}}, "y": {"field": "y", "type": "quantitative", "axis": {"orient": "right", "values": [0,2,4], "tickSize": -6}}}},
  {"mark": {"type": "line", "opacity": 0},
   "encoding": {"x": {"field": "x", "type": "quantitative", "axis": {"orient": "bottom", "labels": false, "domain": false, "values": [3600,3650,3700,3750,3800,3850,3900,3950,4000,4050,4100,4150,4200,4250,4300,4350,4400,4450,4500,4550,4600,4650,4700,4750,4800], "tickSize": -3}}, "y": {"field": "y", "type": "quantitative", "axis": {"orient": "left", "labels": false, "domain": false, "values": [0,0.5,1,1.5,2,2.5,3,3.5,4,4.5], "tickSize": -3}}}},
  {"mark": {"type": "line", "opacity": 0},
   "encoding": {"x": {"field": "x", "type": "quantitative", "axis": {"orient": "top", "domain": false, "values": [3600,3650,3700,3750,3800,3850,3900,3950,4000,4050,4100,4150,4200,4250,4300,4350,4400,4450,4500,4550,4600,4650,4700,4750,4800], "tickSize": -3}}, "y": {"field": "y", "type": "quantitative", "axis": {"orient": "right", "domain": false, "values": [0,0.5,1,1.5,2,2.5,3,3.5,4,4.5], "tickSize": -3}}}}
 ],
 "resolve": {"axis": {"x": "independent", "y": "independent"}}
},
{"width": 438, "height": 52, "transform": [{"filter": "datum.x >= 4770 && datum.x <= 6030"}],
 "encoding": {
  "x": {"field": "x", "type": "quantitative", "scale": {"domain": [4800, 6000], "nice": false, "zero": false}},
  "y": {"field": "y", "type": "quantitative", "scale": {"domain": [0, 4.9], "nice": false, "zero": false}}
 },
 "layer": [
  {"mark": {"type": "line", "clip": true, "color": "black", "strokeWidth": 1},
   "encoding": {"x": {"field": "x", "type": "quantitative", "axis": {"orient": "bottom", "values": [4800,5000,5200,5400,5600,5800,6000], "tickSize": -6}}, "y": {"field": "y", "type": "quantitative", "axis": {"orient": "left", "values": [0,2,4], "tickSize": -6}}}},
  {"mark": {"type": "line", "opacity": 0},
   "encoding": {"x": {"field": "x", "type": "quantitative", "axis": {"orient": "top", "values": [4800,5000,5200,5400,5600,5800,6000], "tickSize": -6}}, "y": {"field": "y", "type": "quantitative", "axis": {"orient": "right", "values": [0,2,4], "tickSize": -6}}}},
  {"mark": {"type": "line", "opacity": 0},
   "encoding": {"x": {"field": "x", "type": "quantitative", "axis": {"orient": "bottom", "labels": false, "domain": false, "values": [4800,4850,4900,4950,5000,5050,5100,5150,5200,5250,5300,5350,5400,5450,5500,5550,5600,5650,5700,5750,5800,5850,5900,5950,6000], "tickSize": -3}}, "y": {"field": "y", "type": "quantitative", "axis": {"orient": "left", "labels": false, "domain": false, "values": [0,0.5,1,1.5,2,2.5,3,3.5,4,4.5], "tickSize": -3}}}},
  {"mark": {"type": "line", "opacity": 0},
   "encoding": {"x": {"field": "x", "type": "quantitative", "axis": {"orient": "top", "domain": false, "values": [4800,4850,4900,4950,5000,5050,5100,5150,5200,5250,5300,5350,5400,5450,5500,5550,5600,5650,5700,5750,5800,5850,5900,5950,6000], "tickSize": -3}}, "y": {"field": "y", "type": "quantitative", "axis": {"orient": "right", "domain": false, "values": [0,0.5,1,1.5,2,2.5,3,3.5,4,4.5], "tickSize": -3}}}}
 ],
 "resolve": {"axis": {"x": "independent", "y": "independent"}}
},
{"width": 438, "height": 52, "transform": [{"filter": "datum.x >= 3970 && datum.x <= 4830"}],
 "encoding": {
  "x": {"field": "x", "type": "quantitative", "scale": {"domain": [4000, 4800], "nice": false, "zero": false}},
  "y": {"field": "y", "type": "quantitative", "scale": {"domain": [0, 4.9], "nice": false, "zero": false}}
 },
 "layer": [
  {"mark": {"type": "line", "clip": true, "color": "black", "strokeWidth": 1},
   "encoding": {"x": {"field": "x", "type": "quantitative", "axis": {"orient": "bottom", "values": [4000,4200,4400,4600,4800], "tickSize": -6}}, "y": {"field": "y", "type": "quantitative", "axis": {"orient": "left", "values": [0,2,4], "tickSize": -6}}}},
  {"mark": {"type": "line", "opacity": 0},
   "encoding": {"x": {"field": "x", "type": "quantitative", "axis": {"orient": "top", "values": [4000,4200,4400,4600,4800], "tickSize": -6}}, "y": {"field": "y", "type": "quantitative", "axis": {"orient": "right", "values": [0,2,4], "tickSize": -6}}}},
  {"mark": {"type": "line", "opacity": 0},
   "encoding": {"x": {"field": "x", "type": "quantitative", "axis": {"orient": "bottom", "labels": false, "domain": false, "values": [4000,4050,4100,4150,4200,4250,4300,4350,4400,4450,4500,4550,4600,4650,4700,4750,4800], "tickSize": -3}}, "y": {"field": "y", "type": "quantitative", "axis": {"orient": "left", "labels": false, "domain": false, "values": [0,0.5,1,1.5,2,2.5,3,3.5,4,4.5], "tickSize": -3}}}},
  {"mark": {"type": "line", "opacity": 0},
   "encoding": {"x": {"field": "x", "type": "quantitative", "axis": {"orient": "top", "domain": false, "values": [4000,4050,4100,4150,4200,4250,4300,4350,4400,4450,4500,4550,4600,4650,4700,4750,4800], "tickSize": -3}}, "y": {"field": "y", "type": "quantitative", "axis": {"orient": "right", "domain": false, "values": [0,0.5,1,1.5,2,2.5,3,3.5,4,4.5], "tickSize": -3}}}}
 ],
 "resolve": {"axis": {"x": "independent", "y": "independent"}}
},
{"width": 438, "height": 52, "transform": [{"filter": "datum.x >= 4770 && datum.x <= 5630"}],
 "encoding": {
  "x": {"field": "x", "type": "quantitative", "scale": {"domain": [4800, 5600], "nice": false, "zero": false}},
  "y": {"field": "y", "type": "quantitative", "scale": {"domain": [0, 4.9], "nice": false, "zero": false}}
 },
 "layer": [
  {"mark": {"type": "line", "clip": true, "color": "black", "strokeWidth": 1},
   "encoding": {"x": {"field": "x", "type": "quantitative", "axis": {"orient": "bottom", "values": [4800,5000,5200,5400,5600], "tickSize": -6, "title": "JD−2450000.", "titlePadding": 8}}, "y": {"field": "y", "type": "quantitative", "axis": {"orient": "left", "values": [0,2,4], "tickSize": -6}}}},
  {"mark": {"type": "line", "opacity": 0},
   "encoding": {"x": {"field": "x", "type": "quantitative", "axis": {"orient": "top", "values": [4800,5000,5200,5400,5600], "tickSize": -6}}, "y": {"field": "y", "type": "quantitative", "axis": {"orient": "right", "values": [0,2,4], "tickSize": -6}}}},
  {"mark": {"type": "line", "opacity": 0},
   "encoding": {"x": {"field": "x", "type": "quantitative", "axis": {"orient": "bottom", "labels": false, "domain": false, "values": [4800,4850,4900,4950,5000,5050,5100,5150,5200,5250,5300,5350,5400,5450,5500,5550,5600], "tickSize": -3}}, "y": {"field": "y", "type": "quantitative", "axis": {"orient": "left", "labels": false, "domain": false, "values": [0,0.5,1,1.5,2,2.5,3,3.5,4,4.5], "tickSize": -3}}}},
  {"mark": {"type": "line", "opacity": 0},
   "encoding": {"x": {"field": "x", "type": "quantitative", "axis": {"orient": "top", "domain": false, "values": [4800,4850,4900,4950,5000,5050,5100,5150,5200,5250,5300,5350,5400,5450,5500,5550,5600], "tickSize": -3}}, "y": {"field": "y", "type": "quantitative", "axis": {"orient": "right", "domain": false, "values": [0,0.5,1,1.5,2,2.5,3,3.5,4,4.5], "tickSize": -3}}}}
 ],
 "resolve": {"axis": {"x": "independent", "y": "independent"}}
}
],
"resolve": {"scale": {"x": "independent"}},
"spacing": 18,
"bounds": "flush"
}
